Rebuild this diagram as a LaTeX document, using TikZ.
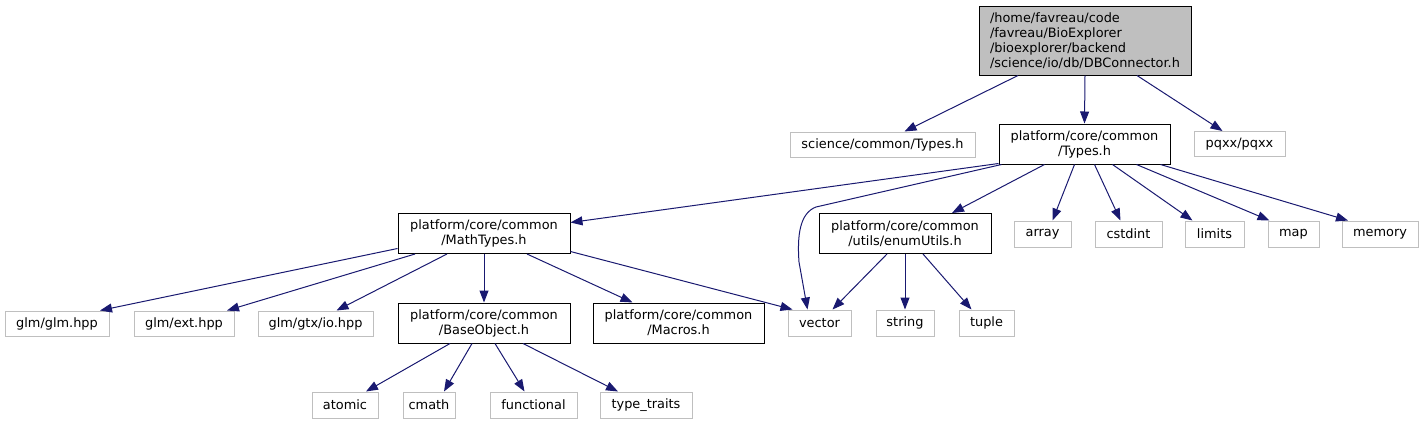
\documentclass[tikz,border=0pt]{standalone}
\usepackage{fontspec}
\setmainfont{DejaVu Sans}
\usepackage{tikz}
\usetikzlibrary{arrows.meta}
\usepackage{xcolor}
\definecolor{edgeblue}{HTML}{191970}
\definecolor{sysgray}{HTML}{BFBFBF}
\definecolor{maingray}{HTML}{BFBFBF}

\begin{document}
\begin{tikzpicture}[x=1pt, y=-1pt, >={Triangle[length=12pt,width=9pt]},
  file/.style={draw=black, line width=1pt, fill=white, inner sep=0pt, align=center,
    minimum height=40pt, font=\fontsize{12.9}{15}\selectfont},
  sysfile/.style={file, draw=sysgray, minimum height=25pt},
  mainfile/.style={file, fill=maingray, align=left, minimum height=69pt},
  dep/.style={->, edgeblue, line width=1pt}]
  \useasboundingbox (0,0) rectangle (1425,424);
  \node[mainfile, minimum width=212pt] (db) at (1085,40.5)
    {/home/favreau/code\\/favreau/BioExplorer\\/bioexplorer/backend\\/science/io/db/DBConnector.h};
  \node[sysfile, minimum width=185pt] (scitypes) at (882.5,144.5) {science/common/Types.h};
  \node[file, minimum width=171pt] (types) at (1084.5,144) {platform/core/common\\/Types.h};
  \node[sysfile, minimum width=91pt] (pqxx) at (1239.5,144) {pqxx/pqxx};
  \node[file, minimum width=172pt] (math) at (484,233.5) {platform/core/common\\/MathTypes.h};
  \node[file, minimum width=172pt] (enum) at (905,233.5) {platform/core/common\\/utils/enumUtils.h};
  \node[sysfile, minimum width=57pt, minimum height=26pt] (array) at (1042.5,234) {array};
  \node[sysfile, minimum width=67pt, minimum height=26pt] (cstdint) at (1128.5,234) {cstdint};
  \node[sysfile, minimum width=59pt, minimum height=26pt] (limits) at (1214.5,234) {limits};
  \node[sysfile, minimum width=51pt, minimum height=26pt] (map) at (1293.5,234) {map};
  \node[sysfile, minimum width=76pt, minimum height=26pt] (memory) at (1380,234) {memory};
  \node[sysfile, minimum width=104pt] (glm) at (57,323.5) {glm/glm.hpp};
  \node[sysfile, minimum width=100pt] (glmext) at (184,323.5) {glm/ext.hpp};
  \node[sysfile, minimum width=115pt] (glmio) at (315.5,323.5) {glm/gtx/io.hpp};
  \node[file, minimum width=172pt] (base) at (484,323) {platform/core/common\\/BaseObject.h};
  \node[file, minimum width=171pt] (macros) at (678.5,323) {platform/core/common\\/Macros.h};
  \node[sysfile, minimum width=63pt, minimum height=26pt] (vector) at (819.5,323) {vector};
  \node[sysfile, minimum width=58pt, minimum height=26pt] (string) at (905,323) {string};
  \node[sysfile, minimum width=55pt, minimum height=26pt] (tuple) at (986.5,323) {tuple};
  \node[sysfile, minimum width=66pt, minimum height=26pt] (atomic) at (345,405) {atomic};
  \node[sysfile, minimum width=52pt, minimum height=26pt] (cmath) at (429,405) {cmath};
  \node[sysfile, minimum width=87pt, minimum height=26pt] (functional) at (533.5,405) {functional};
  \node[sysfile, minimum width=92pt, minimum height=26pt] (traits) at (646,405) {type\_traits};

  \draw[dep] ([xshift=-67pt]db.south) -- ([xshift=22pt]scitypes.north);
  \draw[dep] (db.south) -- (types.north);
  \draw[dep] ([xshift=52pt]db.south) -- ([xshift=-17pt]pqxx.north);

  \draw[dep] ([yshift=1pt]types.south west) -- ([yshift=11pt]math.east);
  \draw[dep] ([xshift=3pt]types.south west) -- (816,207)
    .. controls (800,213) and (797,235) .. (799,262) -- ([xshift=20pt]vector.north west);
  \draw[dep] ([xshift=-40pt]types.south) -- ([xshift=47pt]enum.north);
  \draw[dep] ([xshift=-10pt]types.south) -- ([xshift=10pt]array.north);
  \draw[dep] ([xshift=10pt]types.south) -- ([xshift=-8pt]cstdint.north);
  \draw[dep] ([xshift=28pt]types.south) -- ([xshift=-22pt]limits.north);
  \draw[dep] ([xshift=52pt]types.south) -- ([xshift=-24pt]map.north);
  \draw[dep] ([xshift=-10pt]types.south east) -- ([xshift=-32pt]memory.north);

  \draw[dep] ([yshift=-15pt]math.west) -- ([xshift=43pt]glm.north);
  \draw[dep] ([xshift=-69pt]math.south) -- ([xshift=43pt]glmext.north);
  \draw[dep] ([xshift=-37pt]math.south) -- ([xshift=21pt]glmio.north);
  \draw[dep] (math.south) -- (base.north);
  \draw[dep] ([xshift=43pt]math.south) -- ([xshift=-46pt]macros.north);
  \draw[dep] ([yshift=-18pt]math.east) -- ([xshift=5pt]vector.north west);

  \draw[dep] ([xshift=-18pt]enum.south) -- ([xshift=45pt]vector.north west);
  \draw[dep] (enum.south) -- (string.north);
  \draw[dep] ([xshift=18pt]enum.south) -- ([xshift=-15pt]tuple.north);

  \draw[dep] ([xshift=-34pt]base.south) -- ([xshift=21pt]atomic.north);
  \draw[dep] ([xshift=-12pt]base.south) -- ([xshift=15pt]cmath.north);
  \draw[dep] ([xshift=11pt]base.south) -- ([xshift=-9pt]functional.north);
  \draw[dep] ([xshift=39pt]base.south) -- ([xshift=-28pt]traits.north);
\end{tikzpicture}
\end{document}
